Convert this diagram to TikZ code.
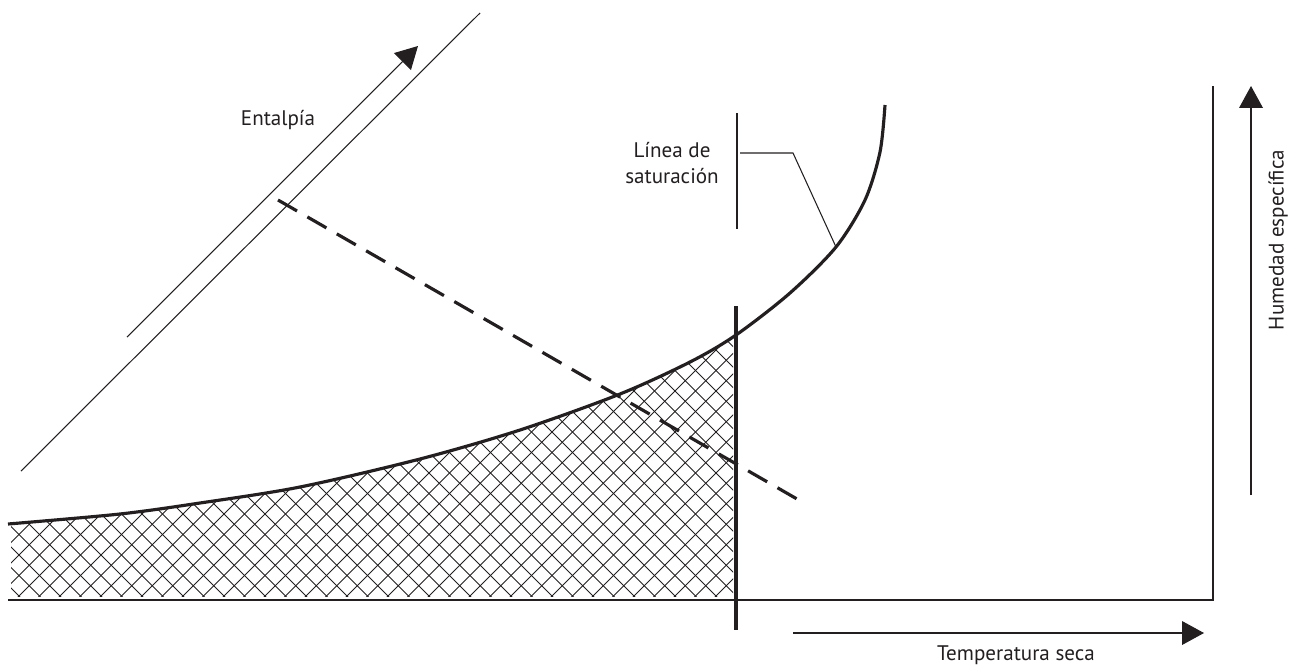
\documentclass[tikz,border=0pt]{standalone}
\usepackage{fontspec}
\setmainfont{PT Sans}
\usetikzlibrary{arrows.meta}
\definecolor{ink}{RGB}{35,31,32}
\tikzset{
  thin line/.style={draw=ink, line width=0.6pt},
  bold line/.style={draw=ink, line width=1.8pt},
  hatch/.style={draw=ink, line width=0.45pt},
  tri/.style={-{Triangle[length=12.5pt,width=13.5pt]}},
  lbl/.style={text=ink, font=\fontsize{12}{15}\selectfont, inner sep=0pt},
}
\begin{document}
\begin{tikzpicture}[x=0.02cm,y=-0.02cm]
\useasboundingbox (0,0) rectangle (1304,666);
\def\satcurve{(8,524) (120,514) (200,503) (300,487) (420,459) (520,430) (620,394) (690,362) (736,335) (790,293) (836,247) (865,200) (880,152) (885,105)}
% hatch
\begin{scope}
  \clip (8,600) -- plot[smooth] coordinates {(8,524) (120,514) (200,503) (300,487) (420,459) (520,430) (620,394) (690,362) (736,335) (790,293)} -- (790,600) -- cycle;
  \clip (11,300) rectangle (733,596);
  \foreach \i in {0,...,110} {
    \pgfmathsetmacro\c{-700+\i*20.5}
    \draw[hatch] (\c,0) -- ++(700,700);
    \draw[hatch] (\c,700) -- ++(700,-700);
  }
\end{scope}
% axes
\coordinate (o) at (8,600);
\coordinate (xr) at (1213,600);
\coordinate (yt) at (1213,86);
\draw[thin line] (o) -- (xr) -- (yt);
% saturation curve
\draw[bold line] plot[smooth] coordinates {\satcurve};
% bold vertical line
\coordinate (vt) at (736,306);
\coordinate (vb) at (736,630);
\draw[bold line] (vt) -- (vb);
% dashed line
\coordinate (d1) at (278,200);
\coordinate (d2) at (797,499);
\draw[bold line, dash pattern=on 12.5pt off 6.8pt] (d1) -- (d2);
% enthalpy lines
\coordinate (e1a) at (21,471);
\coordinate (e1b) at (480,13);
\draw[thin line] (e1a) -- (e1b);
\coordinate (e2a) at (127,337);
\coordinate (e2b) at (418,46);
\draw[thin line, tri, ink] (e2a) -- (e2b);
\node[lbl] (ent) at (278,120) {Entalpía};
% temperature arrow
\coordinate (ta) at (793,633);
\coordinate (tb) at (1204,633);
\draw[thin line, tri, ink] (ta) -- (tb);
\node[lbl] (temp) at (1016,655) {Temperatura seca};
% humidity arrow
\coordinate (ha) at (1251,495);
\coordinate (hb) at (1251,86);
\draw[thin line, tri, ink] (ha) -- (hb);
\node[lbl, rotate=90] (hum) at (1278,240) {Humedad específica};
% saturation label
\node[lbl, align=center] (sat) at (672,163) {Línea de\\saturación};
\coordinate (bt) at (737,113);
\coordinate (bb) at (737,229);
\draw[thin line] (bt) -- (bb);
\coordinate (l1) at (740,153);
\coordinate (l2) at (793,153);
\coordinate (l3) at (836,247);
\draw[thin line] (l1) -- (l2) -- (l3);
\end{tikzpicture}
\end{document}
